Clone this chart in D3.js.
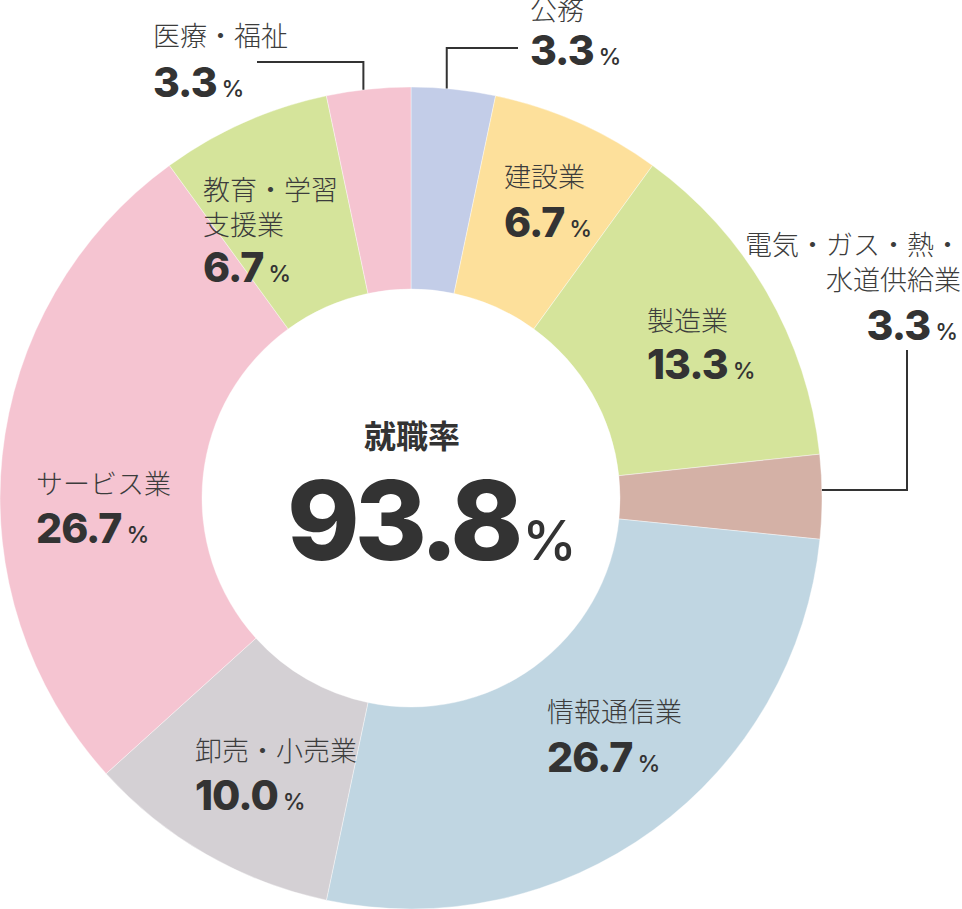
<!DOCTYPE html>
<html>
<head>
<meta charset="utf-8">
<script src="https://cdn.jsdelivr.net/npm/d3@7"></script>
<style>
  body { margin: 0; background: #fff; }
  svg { display: block; }
  .name { font-family: 'Noto Sans CJK JP', sans-serif; font-size: 27px; font-weight: 300; fill: #3c3c3c; }
  .value { font-family: Inter, 'Noto Sans', sans-serif; font-size: 41px; font-weight: 800; fill: #333; letter-spacing: -1px; }
  .pct { font-size: 23px; font-weight: 500; letter-spacing: 0; }
</style>
</head>
<body>
<div id="wrapper"></div>
<script>
// data
const categories = ['公務', '建設業', '製造業', '電気・ガス・熱・水道供給業', '情報通信業', '卸売・小売業', 'サービス業', '教育・学習支援業', '医療・福祉'];
const shares = [3.3, 6.7, 13.3, 3.3, 26.7, 10.0, 26.7, 6.7, 3.3];
const valueLabels = ['3.3', '6.7', '13.3', '3.3', '26.7', '10.0', '26.7', '6.7', '3.3'];
const labelLines = [['公務'], ['建設業'], ['製造業'], ['電気・ガス・熱・', '水道供給業'], ['情報通信業'], ['卸売・小売業'], ['サービス業'], ['教育・学習', '支援業'], ['医療・福祉']];
const sliceColors = ['#c3cde8', '#fde09b', '#d5e49b', '#d4b1a6', '#c0d6e2', '#d4d0d4', '#f5c4d1', '#d5e49b', '#f5c4d1'];
const rateTitle = '就職率';
const rateValue = '93.8';

// label layout (annotation positions)
const labelLayout = [
  { x: 530, y: 20, vy: 65, anchor: 'start', leader: { t: 0.42, y: 48, x: 518 } },
  { x: 504, y: 187, vy: 237, anchor: 'start' },
  { x: 647, y: 331, vy: 379, anchor: 'start' },
  { x: 961, y: 255, vy: 340, vx: 958, anchor: 'end', leader: { t: 0.42, x: 907, y: 350, horizontalFirst: true } },
  { x: 547, y: 722, vy: 772, anchor: 'start' },
  { x: 195, y: 761, vy: 810, anchor: 'start' },
  { x: 36, y: 494, vy: 543, anchor: 'start' },
  { x: 203, y: 200, vy: 282, anchor: 'start' },
  { x: 153, y: 46, vy: 97, anchor: 'start', leader: { t: 0.44, y: 62, x: 257 } }
];

// dimensions
const dimensions = {
  width: 962,
  height: 909,
  cx: 411,
  cy: 498,
  outerRadius: 411,
  innerRadius: 209
};

const wrapper = d3.select('#wrapper')
  .append('svg')
  .attr('width', dimensions.width)
  .attr('height', dimensions.height);

const chart = wrapper.append('g')
  .attr('transform', `translate(${dimensions.cx},${dimensions.cy})`);

const pie = d3.pie().sort(null).value(d => d);
const arcs = pie(shares);

const arc = d3.arc()
  .innerRadius(dimensions.innerRadius)
  .outerRadius(dimensions.outerRadius);

chart.selectAll('path.slice')
  .data(arcs)
  .join('path')
  .attr('class', 'slice')
  .attr('d', arc)
  .attr('fill', (d, i) => sliceColors[i])
  .attr('stroke', '#fff')
  .attr('stroke-width', 0.4);

// leader lines
arcs.forEach((a, i) => {
  const l = labelLayout[i].leader;
  if (!l) return;
  const angle = a.startAngle + l.t * (a.endAngle - a.startAngle);
  const [px, py] = d3.pointRadial(angle, dimensions.outerRadius);
  const sx = px + dimensions.cx;
  const sy = py + dimensions.cy;
  const pts = l.horizontalFirst
    ? [[sx, sy], [l.x, sy], [l.x, l.y]]
    : [[sx, sy], [sx, l.y], [l.x, l.y]];
  wrapper.append('path')
    .attr('d', d3.line()(pts))
    .attr('fill', 'none')
    .attr('stroke', '#333')
    .attr('stroke-width', 2);
});

// labels
labelLayout.forEach((p, i) => {
  const g = wrapper.append('g').attr('text-anchor', p.anchor);
  labelLines[i].forEach((line, j) => {
    g.append('text')
      .attr('class', 'name')
      .attr('x', p.x)
      .attr('y', p.y + j * 35)
      .text(line);
  });
  const v = g.append('text')
    .attr('class', 'value')
    .attr('x', p.vx ?? p.x)
    .attr('y', p.vy);
  v.append('tspan').text(valueLabels[i]);
  v.append('tspan').attr('class', 'pct').attr('dx', 5).text('%');
});

// center
wrapper.append('text')
  .attr('x', dimensions.cx + 1)
  .attr('y', 448)
  .attr('text-anchor', 'middle')
  .style('font-family', "'Noto Sans CJK JP', sans-serif")
  .style('font-size', '32px')
  .style('font-weight', 700)
  .style('fill', '#333')
  .text(rateTitle);

const center = wrapper.append('text')
  .attr('x', 287)
  .attr('y', 560)
  .style('font-family', "Inter, 'Noto Sans', sans-serif")
  .style('font-weight', 800)
  .style('fill', '#333');
center.append('tspan')
  .style('font-size', '110px')
  .style('letter-spacing', '-5px')
  .text(rateValue);
center.append('tspan')
  .attr('dx', 4)
  .style('font-size', '55px')
  .style('font-weight', 500)
  .text('%');
</script>
</body>
</html>
